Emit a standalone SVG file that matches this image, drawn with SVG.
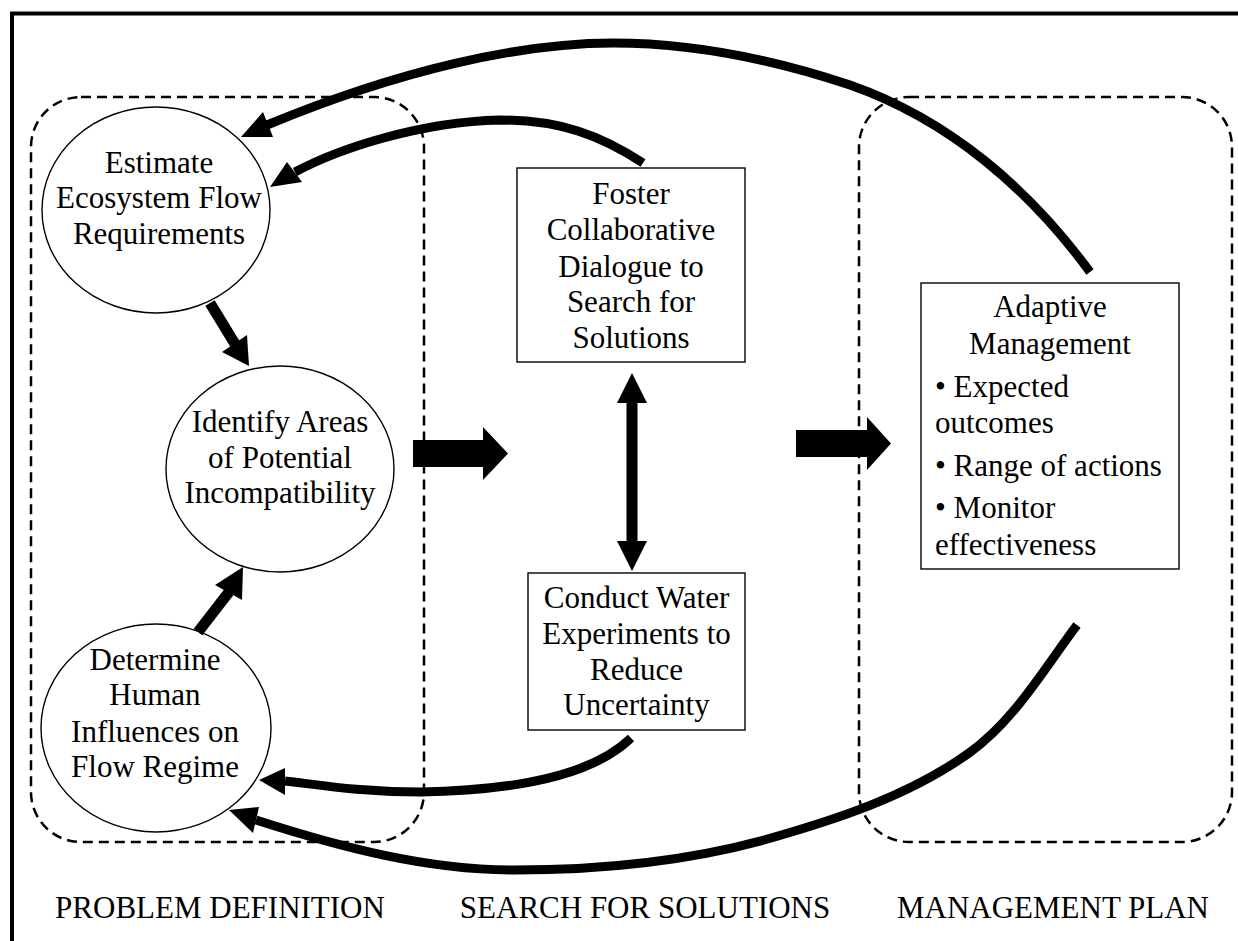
<svg xmlns="http://www.w3.org/2000/svg" width="1238" height="941" viewBox="0 0 1238 941">
<style>
.t{font-family:"Liberation Serif","Times New Roman",serif;font-size:31px;fill:#000;text-anchor:middle}
.tl{font-family:"Liberation Serif","Times New Roman",serif;font-size:31px;fill:#000;text-anchor:start}
.node{fill:#fff;stroke:#000;stroke-width:1.4}
.lane{fill:none;stroke:#000;stroke-width:2.5;stroke-dasharray:10 6}
.curve{fill:none;stroke:#000;stroke-width:9}
.shaft{fill:none;stroke:#000;stroke-width:11}
.head{fill:#000;stroke:none}
</style>
<rect x="0" y="0" width="1238" height="941" fill="#fff"/>
<path d="M12,945 L12,13.5 L1245,13.5" fill="none" stroke="#000" stroke-width="4"/>
<g id="lanes">
<rect class="lane" x="31" y="97" width="393" height="745" rx="50" ry="50"/>
<rect class="lane" x="859" y="97" width="373" height="745" rx="50" ry="50"/>
</g>
<g id="estimate">
<ellipse class="node" cx="156" cy="210" rx="114" ry="103"/>
<text class="t" x="159" y="173">Estimate</text>
<text class="t" x="159" y="208">Ecosystem Flow</text>
<text class="t" x="159" y="244">Requirements</text>
</g>
<g id="identify">
<ellipse class="node" cx="280" cy="469" rx="114" ry="103"/>
<text class="t" x="280" y="432">Identify Areas</text>
<text class="t" x="280" y="468">of Potential</text>
<text class="t" x="280" y="503">Incompatibility</text>
</g>
<g id="determine">
<ellipse class="node" cx="156" cy="728" rx="115" ry="104"/>
<text class="t" x="155" y="670">Determine</text>
<text class="t" x="155" y="705">Human</text>
<text class="t" x="155" y="742">Influences on</text>
<text class="t" x="155" y="777">Flow Regime</text>
</g>
<g id="foster">
<rect class="node" x="517" y="168" width="228" height="194"/>
<text class="t" x="631" y="204">Foster</text>
<text class="t" x="631" y="240">Collaborative</text>
<text class="t" x="631" y="277">Dialogue to</text>
<text class="t" x="631" y="312">Search for</text>
<text class="t" x="631" y="348">Solutions</text>
</g>
<g id="conduct">
<rect class="node" x="528" y="573" width="217" height="157"/>
<text class="t" x="636.5" y="608">Conduct Water</text>
<text class="t" x="636.5" y="644">Experiments to</text>
<text class="t" x="636.5" y="680">Reduce</text>
<text class="t" x="636.5" y="715">Uncertainty</text>
</g>
<g id="adaptive">
<rect class="node" x="921" y="283" width="258" height="286"/>
<text class="t" x="1050" y="317">Adaptive</text>
<text class="t" x="1050" y="354">Management</text>
<text class="tl" x="935" y="397">• Expected</text>
<text class="tl" x="935" y="433">outcomes</text>
<text class="tl" x="935" y="476">• Range of actions</text>
<text class="tl" x="935" y="518">• Monitor</text>
<text class="tl" x="935" y="555">effectiveness</text>
</g>
<g id="connectors">
<path class="curve" d="M1090,272 C1030,190 950,120 850,85 C760,55 680,43 613,43 C520,43 400,70 267,125"/>
<polygon class="head" points="241,137 263,112 273,137"/>
<path class="curve" d="M643,163 C600,135 560,120 500,120 C420,122 340,148 295,172"/>
<polygon class="head" points="270,187 287,162 302,182"/>
<path class="curve" d="M631,738 C600,768 540,790 420,792 C360,792 320,785 285,781"/>
<polygon class="head" points="259,780 285,768 285,795"/>
<path class="curve" d="M1077,625 C1044,669 1014,721 969,753 C909,796 835,820 764,840 C683,862 598,870 514,870 C426,870 340,847 256,820"/>
<polygon class="head" points="229,810 259,807 253,833"/>
<path class="shaft" d="M210,303 L235,344"/>
<polygon class="head" points="249,366 222,352 247,335"/>
<path class="shaft" d="M198,632 L229,592"/>
<polygon class="head" points="243,567 215,585 242,600"/>
<path class="shaft" d="M632,400 L632,544"/>
<polygon class="head" points="632,373 617,403 647,403"/>
<polygon class="head" points="632,571 617,541 647,541"/>
<polygon class="head" points="413,440 483,440 483,427 508,453.5 483,480 483,467 413,467"/>
<polygon class="head" points="796,430 867,430 867,417 891,443.5 867,470 867,457 796,457"/>
</g>
<g id="captions">
<text class="t" x="220" y="918">PROBLEM DEFINITION</text>
<text class="t" x="645" y="918">SEARCH FOR SOLUTIONS</text>
<text class="t" x="1053" y="918">MANAGEMENT PLAN</text>
</g>
</svg>
